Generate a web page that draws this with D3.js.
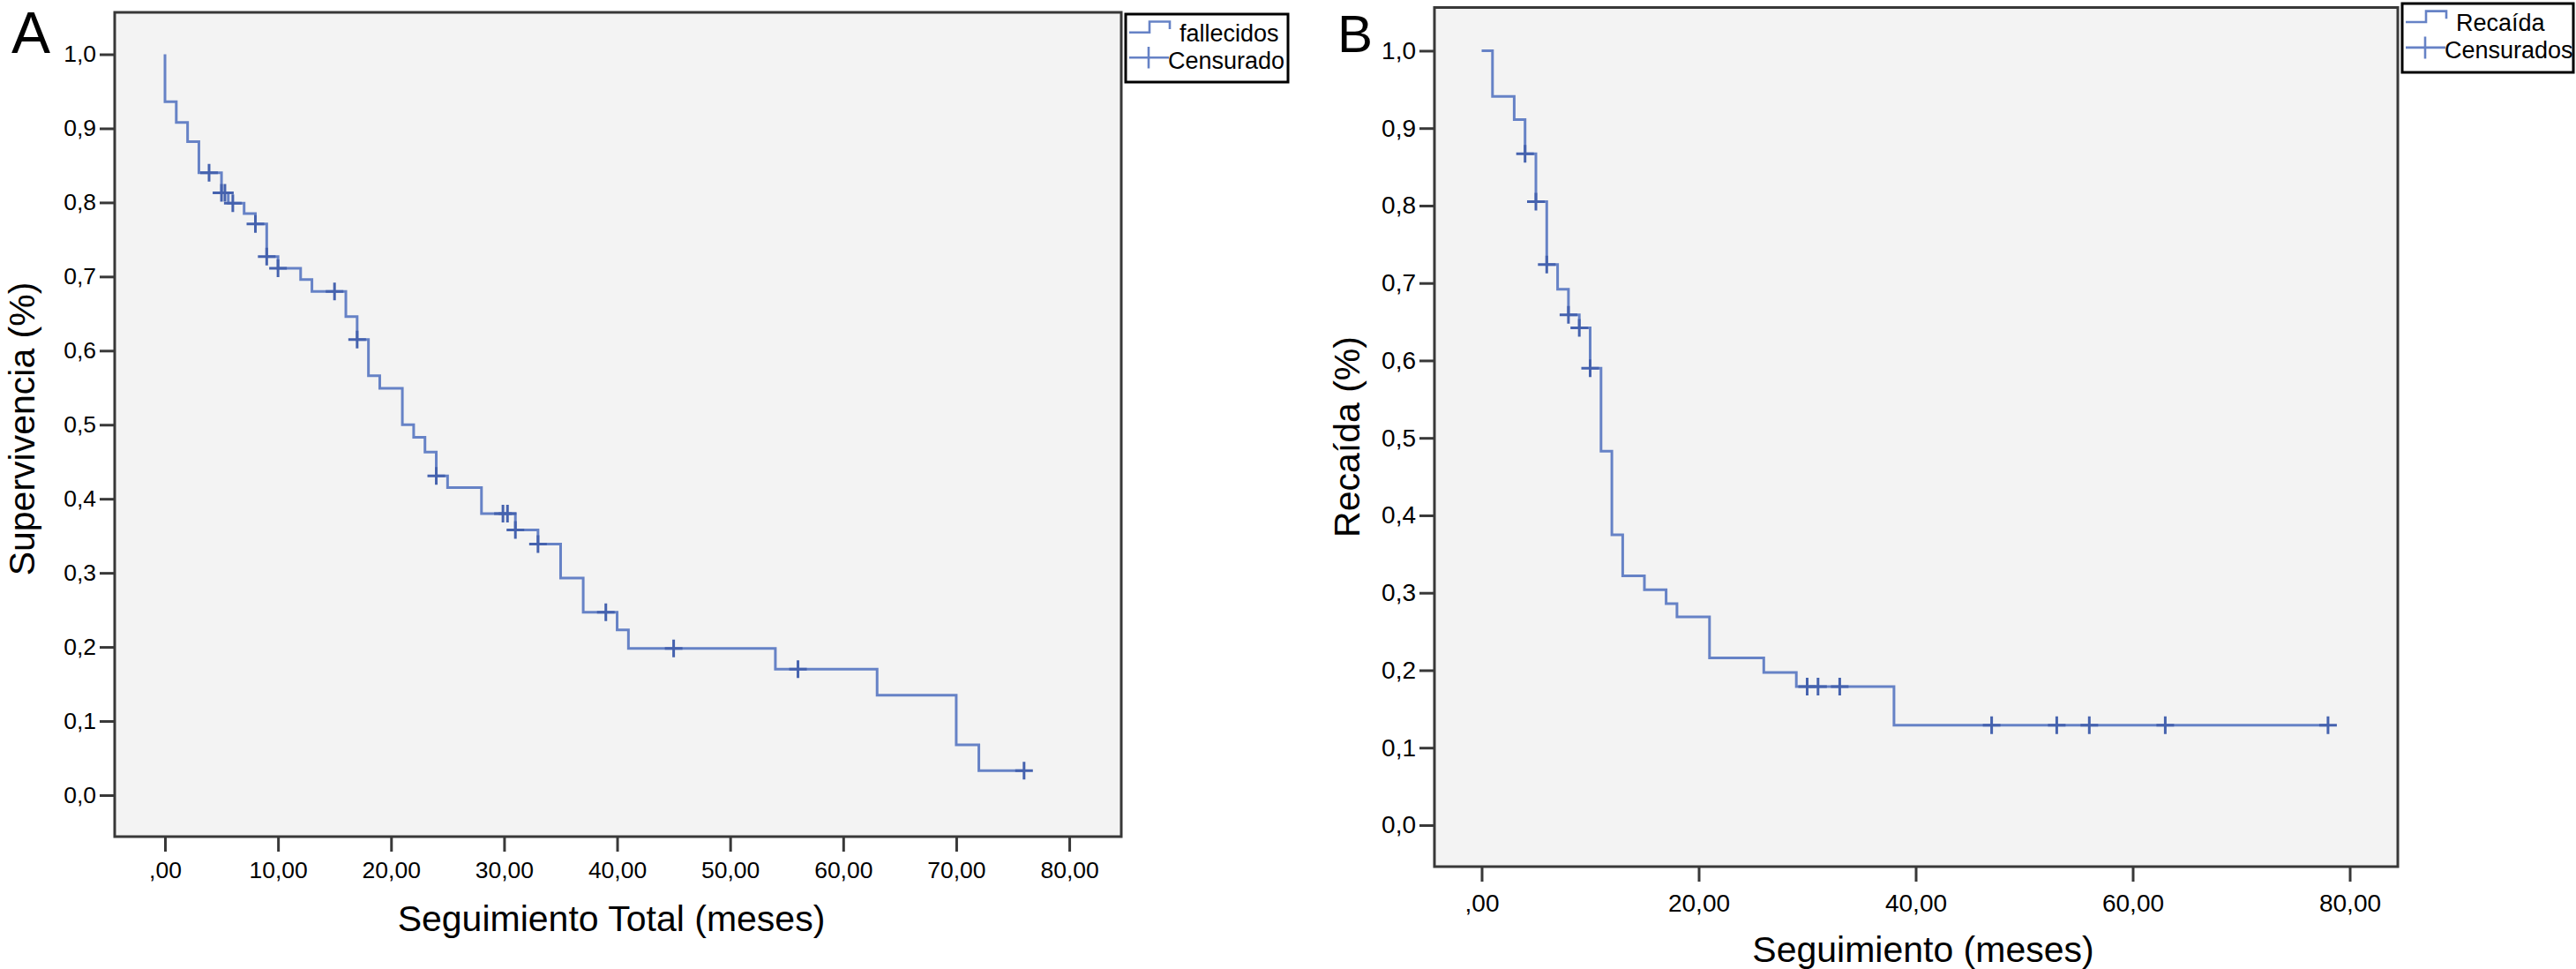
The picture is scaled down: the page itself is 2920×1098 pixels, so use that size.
<!DOCTYPE html>
<html>
<head>
<meta charset="utf-8">
<script src="https://cdn.jsdelivr.net/npm/d3@7"></script>
<style>
  body { margin: 0; background: #fff; }
  text { font-family: "Liberation Sans", Arial, sans-serif; fill: #000; }
</style>
</head>
<body>
<svg id="chart" width="2920" height="1098"></svg>
<script>
// A: Kaplan-Meier, supervivencia global (step points: time, survival after event)
const timesA = [0, 0, 1, 2, 3, 5, 5.6, 7, 8, 9, 10, 12, 13, 16, 17, 18, 19, 21, 22, 23,
                24, 25, 28, 31, 33, 35, 37, 40, 41, 54, 63, 70, 72, 76];
const survA  = [1, 0.936, 0.908, 0.882, 0.840, 0.813, 0.799, 0.785, 0.771, 0.727, 0.711,
                0.696, 0.680, 0.646, 0.615, 0.566, 0.549, 0.500, 0.483, 0.463, 0.431,
                0.415, 0.380, 0.358, 0.339, 0.293, 0.247, 0.223, 0.198, 0.170, 0.135,
                0.068, 0.033, 0.033];
const censorTimesA = [3.9, 5, 5.3, 6, 8, 9, 10, 15, 17, 24, 29.9, 30.3, 31, 33, 39, 45, 56, 76];
const censorSurvA  = [0.840, 0.813, 0.813, 0.799, 0.771, 0.727, 0.711, 0.680, 0.615, 0.431,
                      0.380, 0.380, 0.358, 0.339, 0.247, 0.198, 0.170, 0.033];

// B: Kaplan-Meier, libre de recaída
const timesB = [0, 1, 3, 4, 5, 6, 7, 8, 9, 10, 11, 12, 13, 15, 17, 18, 21, 26, 29, 38, 78];
const survB  = [1, 0.941, 0.911, 0.867, 0.805, 0.724, 0.692, 0.659, 0.642, 0.590, 0.483,
                0.375, 0.322, 0.304, 0.286, 0.269, 0.216, 0.197, 0.179, 0.129, 0.129];
const censorTimesB = [4, 5, 6, 8, 9, 10, 30, 31, 33, 47, 53, 56, 63, 78];
const censorSurvB  = [0.867, 0.805, 0.724, 0.659, 0.642, 0.590, 0.179, 0.179, 0.179,
                      0.129, 0.129, 0.129, 0.129, 0.129];

const yTicks  = [0, 0.1, 0.2, 0.3, 0.4, 0.5, 0.6, 0.7, 0.8, 0.9, 1.0];
const xTicksA = [0, 10, 20, 30, 40, 50, 60, 70, 80];
const xTicksB = [0, 20, 40, 60, 80];

const lineColor = "#6682c6";
const censorColor = "#4562ae";

const loc = d3.formatLocale({decimal: ",", thousands: ".", grouping: [3], currency: ["", ""]});
const fmtY = loc.format(".1f");
const fmtX = d => loc.format(".2f")(d).replace(/^0,/, ",");

const svg = d3.select("#chart");

function drawPanel(p) {
  const x = d3.scaleLinear().domain(p.xDomain).range([p.frame.x0, p.frame.x1]);
  const y = d3.scaleLinear().domain(p.yDomain).range([p.frame.y1, p.frame.y0]);
  const g = svg.append("g");

  // plot background
  g.append("rect")
    .attr("x", p.frame.x0).attr("y", p.frame.y0)
    .attr("width", p.frame.x1 - p.frame.x0).attr("height", p.frame.y1 - p.frame.y0)
    .attr("fill", "#f3f3f3");

  // step curve
  const pts = p.times.map((t, i) => [t, p.surv[i]]);
  g.append("path")
    .datum(pts)
    .attr("fill", "none")
    .attr("stroke", lineColor)
    .attr("stroke-width", 3)
    .attr("d", d3.line().x(d => x(d[0])).y(d => y(d[1])).curve(d3.curveStepAfter));

  // censor marks
  const cens = p.censorTimes.map((t, i) => [t, p.censorSurv[i]]);
  g.append("g").selectAll("path")
    .data(cens)
    .join("path")
    .attr("fill", "none")
    .attr("stroke", censorColor)
    .attr("stroke-width", 3)
    .attr("d", d => `M${x(d[0]) - 10},${y(d[1])}H${x(d[0]) + 10}M${x(d[0])},${y(d[1]) - 10}V${y(d[1]) + 10}`);

  // frame
  g.append("rect")
    .attr("x", p.frame.x0).attr("y", p.frame.y0)
    .attr("width", p.frame.x1 - p.frame.x0).attr("height", p.frame.y1 - p.frame.y0)
    .attr("fill", "none")
    .attr("stroke", "#383838")
    .attr("stroke-width", 3);

  // y-axis
  const ya = g.append("g")
    .attr("transform", `translate(${p.frame.x0},0)`)
    .call(d3.axisLeft(y).tickValues(yTicks).tickFormat(fmtY).tickSizeInner(17).tickSizeOuter(0).tickPadding(4));
  // x-axis
  const xa = g.append("g")
    .attr("transform", `translate(0,${p.frame.y1})`)
    .call(d3.axisBottom(x).tickValues(p.xTicks).tickFormat(fmtX).tickSizeInner(17).tickSizeOuter(0).tickPadding(p.xPad));

  [ya, xa].forEach(a => {
    a.select(".domain").remove();
    a.selectAll(".tick line").attr("stroke", "#383838").attr("stroke-width", 3);
    a.selectAll(".tick text").attr("font-size", p.tickFont).attr("fill", "#000");
  });

  // titles
  g.append("text")
    .attr("x", p.xTitle[0]).attr("y", p.xTitle[1])
    .attr("text-anchor", "middle")
    .attr("font-size", 41)
    .text(p.xLabel);
  g.append("text")
    .attr("transform", `translate(${p.yTitle[0]},${p.yTitle[1]}) rotate(-90)`)
    .attr("text-anchor", "middle")
    .attr("font-size", 41)
    .text(p.yLabel);
  g.append("text")
    .attr("x", p.letterPos[0]).attr("y", p.letterPos[1])
    .attr("font-size", p.letterFont)
    .text(p.letter);

  // legend
  const L = p.legend;
  const lg = g.append("g").attr("transform", `translate(${L.x},${L.y})`);
  lg.append("rect")
    .attr("width", L.w).attr("height", L.h)
    .attr("fill", "#fff").attr("stroke", "#000").attr("stroke-width", 3);
  lg.append("path")
    .attr("fill", "none").attr("stroke", lineColor).attr("stroke-width", 2.6)
    .attr("d", `M4,${L.h * 0.27}H27V${L.h * 0.11}H50V${L.h * 0.22}`);
  lg.append("path")
    .attr("fill", "none").attr("stroke", lineColor).attr("stroke-width", 2.6)
    .attr("d", `M4,${L.h * 0.64}H49M26,${L.h * 0.48}V${L.h * 0.80}`);
  lg.append("text").attr("x", 61).attr("y", L.h * 0.40).attr("font-size", 27).text(L.labels[0]);
  lg.append("text").attr("x", 48).attr("y", L.h * 0.80).attr("font-size", 27).text(L.labels[1]);
}

drawPanel({
  letter: "A", letterPos: [13, 60], letterFont: 66,
  frame: {x0: 130, y0: 14, x1: 1271, y1: 948},
  xDomain: [-4.45, 84.6], yDomain: [-0.056, 1.0566],
  times: timesA, surv: survA, censorTimes: censorTimesA, censorSurv: censorSurvA,
  xTicks: xTicksA, xPad: 11, tickFont: 26.5,
  xLabel: "Seguimiento Total (meses)", xTitle: [693, 1055],
  yLabel: "Supervivencia (%)", yTitle: [39, 486],
  legend: {x: 1276, y: 16, w: 184, h: 77, labels: ["fallecidos", "Censurado"]}
});

drawPanel({
  letter: "B", letterPos: [1516, 59], letterFont: 60,
  frame: {x0: 1626, y0: 8.5, x1: 2718, y1: 982},
  xDomain: [-4.35, 84.43], yDomain: [-0.0536, 1.0558],
  times: timesB, surv: survB, censorTimes: censorTimesB, censorSurv: censorSurvB,
  xTicks: xTicksB, xPad: 14, tickFont: 28,
  xLabel: "Seguimiento (meses)", xTitle: [2180, 1090],
  yLabel: "Recaída (%)", yTitle: [1541, 495],
  legend: {x: 2723, y: 4, w: 194, h: 78, labels: ["Recaída", "Censurados"]}
});
</script>
</body>
</html>
